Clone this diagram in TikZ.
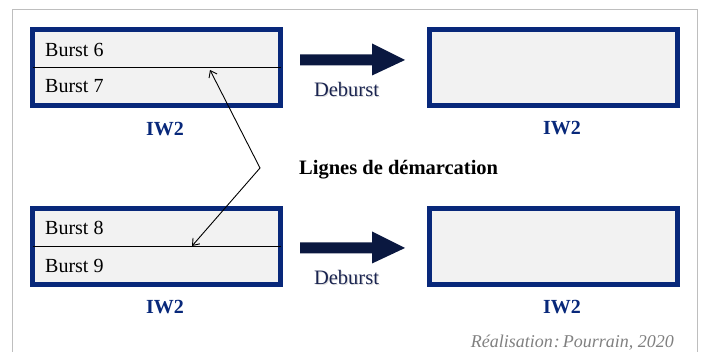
\documentclass[tikz,border=0pt]{standalone}
\usepackage{fontspec}
\setmainfont{Liberation Serif}
\usetikzlibrary{arrows.meta}
\definecolor{boxblue}{RGB}{8,40,122}
\definecolor{arrowblue}{RGB}{10,24,64}
\definecolor{debtext}{RGB}{26,36,80}
\definecolor{boxfill}{RGB}{242,242,242}
\definecolor{framegrey}{RGB}{190,190,190}
\tikzset{
  imgbox/.style={draw=boxblue, fill=boxfill, line width=5pt, rectangle,
    minimum width=248pt, minimum height=76pt, inner sep=0pt, outer sep=0pt},
  bursttxt/.style={anchor=base west, inner sep=0pt, font=\fontsize{20}{24}\selectfont},
  iwlabel/.style={anchor=base, inner sep=0pt, text=boxblue, font=\fontsize{20}{24}\selectfont\bfseries},
  debtxt/.style={anchor=base, inner sep=0pt, text=debtext, font=\fontsize{20.5}{24}\selectfont},
  bigarrow/.style={fill=arrowblue, draw=none},
  markline/.style={draw=black, line width=0.9pt, {Straight Barb[length=6pt,width=9pt]}-{Straight Barb[length=6pt,width=9pt]}}
}
\begin{document}
\begin{tikzpicture}[x=1pt,y=-1pt]
\useasboundingbox (0,0) rectangle (702,352);
% outer frame
\draw[framegrey, line width=1pt] (12,352) -- (12,10) -- (697,10) -- (697,352);

% boxes
\node[imgbox] (b1) at (156.5,67.5) {};
\node[imgbox] (b2) at (553,67.5) {};
\node[imgbox] (b3) at (156.5,246.5) {};
\node[imgbox] (b4) at (553,246.5) {};

% dividers
\draw[black, line width=1pt] (b1.west) -- (b1.east);
\draw[black, line width=1pt] (b3.west) -- (b3.east);

% burst labels
\node[bursttxt] (t6) at (45,57) {Burst 6};
\node[bursttxt] (t7) at (45,93) {Burst 7};
\node[bursttxt] (t8) at (45,235) {Burst 8};
\node[bursttxt] (t9) at (45,272.5) {Burst 9};

% IW2 labels
\node[iwlabel] (l1) at (165,136) {IW2};
\node[iwlabel] (l2) at (562,135) {IW2};
\node[iwlabel] (l3) at (165,314) {IW2};
\node[iwlabel] (l4) at (562,314) {IW2};

% big arrows
\coordinate (a1) at (300,60);
\coordinate (a2) at (300,248);
\fill[bigarrow] (a1) ++(0,-5.5) -- ++(72,0) -- ++(0,-11) -- (405,60) -- (372,75.5) -- (372,65.5) -- (300,65.5) -- cycle;
\fill[bigarrow] (a2) ++(0,-5.5) -- ++(72,0) -- ++(0,-11) -- (405,248) -- (372,263.5) -- (372,253.5) -- (300,253.5) -- cycle;

% Deburst labels with shadow
\node[debtxt, text=gray!45, opacity=0.6] at (347.6,97.6) {Deburst};
\node[debtxt] (d1) at (346.5,96.7) {Deburst};
\node[debtxt, text=gray!45, opacity=0.6] at (347.6,285.6) {Deburst};
\node[debtxt] (d2) at (346.5,284.7) {Deburst};

% marcation lines
\node[anchor=base west, inner sep=0pt, font=\fontsize{20.5}{24}\selectfont\bfseries] (lig) at (299,175) {Lignes de démarcation};
\coordinate (p1) at (210,70);
\coordinate (pm) at (260,168);
\coordinate (p2) at (192,246);
\draw[markline] (p1) -- (pm) -- (p2);

% credit
\node[anchor=base east, inner sep=0pt, text=gray, font=\fontsize{18}{20}\selectfont\itshape] (cred) at (674,347.5) {Réalisation\kern1pt:\kern3pt Pourrain, 2020};
\end{tikzpicture}
\end{document}
